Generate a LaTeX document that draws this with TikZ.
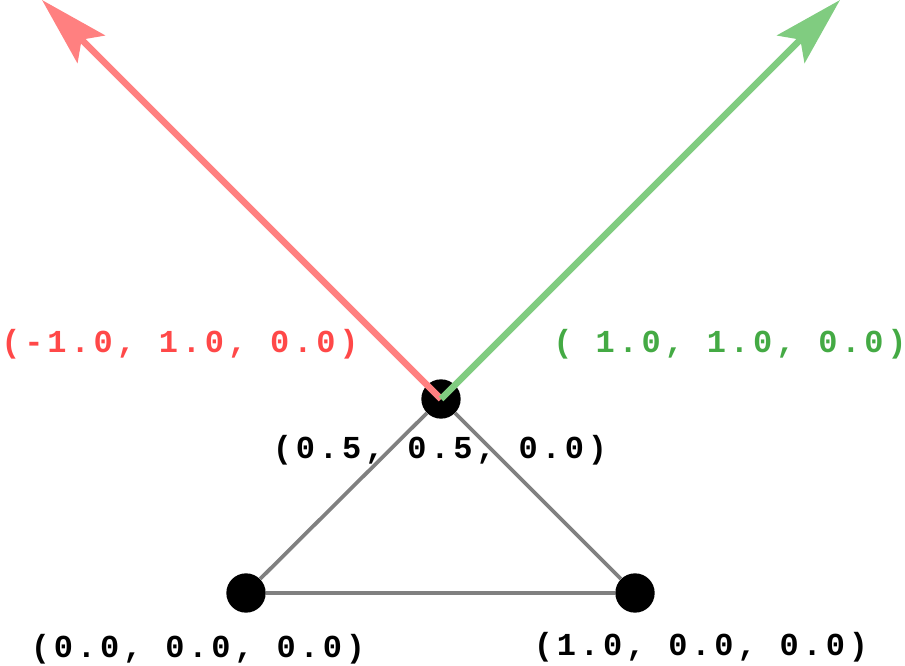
\documentclass[tikz,border=0pt]{standalone}
\usepackage{fontspec}
\usepackage{tikz}
\usetikzlibrary{arrows.meta}
\newfontfamily\coordfont[LetterSpace=12]{Liberation Mono}
\definecolor{arrowred}{HTML}{FF8080}
\definecolor{textred}{HTML}{FF4848}
\definecolor{arrowgreen}{HTML}{80CC80}
\definecolor{textgreen}{HTML}{44AA44}
\tikzset{
  vertex/.style={circle, fill=black, inner sep=0pt, minimum size=29.5pt},
  edge/.style={draw=gray, line width=2.8pt},
  vec/.style={line width=5pt, -{Stealth[length=52pt, width=29pt, inset=10pt]}},
  coordlabel/.style={font=\coordfont\bfseries\fontsize{24}{26}\selectfont, inner sep=0pt}
}

\begin{document}
\begin{tikzpicture}[x=0.75pt, y=-0.75pt]
    \useasboundingbox (0,0) rectangle (905,666);

    % vertices
    \node[vertex] (v0) at (246,593) {};
    \node[vertex] (v1) at (635,593) {};
    \node[vertex] (c) at (441,399) {};

    % triangle
    \draw[edge] (v0) -- (v1);
    \draw[edge] (v1) -- (c);
    \draw[edge] (c) -- (v0);

    % direction vectors
    \coordinate (tipl) at (42,0);
    \coordinate (tipr) at (840,0);
    \draw[vec, arrowred] (c.center) -- (tipl);
    \draw[vec, arrowgreen] (c.center) -- (tipr);

    % labels
    \node[coordlabel, text=textred] (ll) at (180,344) {(-1.0, 1.0, 0.0)};
    \node[coordlabel, text=textgreen] (lr) at (730,344) {( 1.0, 1.0, 0.0)};
    \node[coordlabel] (lc) at (440,450) {(0.5, 0.5, 0.0)};
    \node[coordlabel] (l0) at (198,649) {(0.0, 0.0, 0.0)};
    \node[coordlabel] (l1) at (701,647) {(1.0, 0.0, 0.0)};

\end{tikzpicture}
\end{document}
